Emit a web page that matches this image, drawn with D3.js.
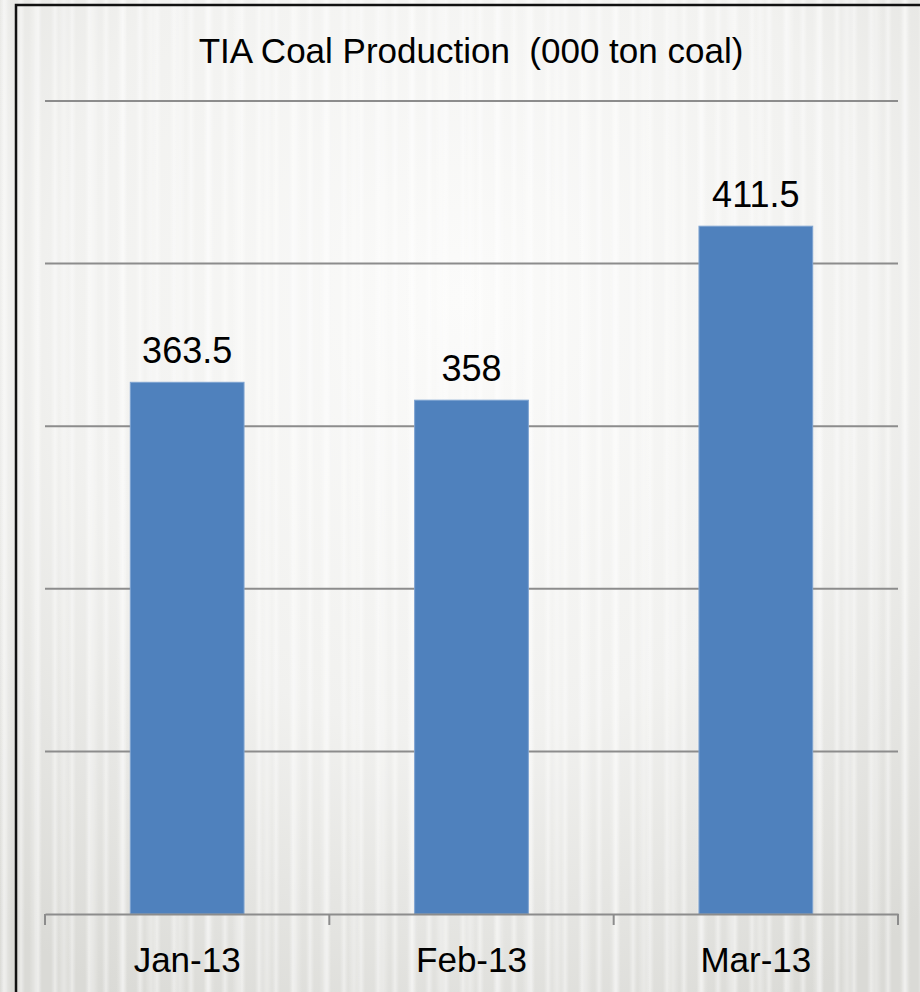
<!DOCTYPE html>
<html>
<head>
<meta charset="utf-8">
<script src="https://cdn.jsdelivr.net/npm/d3@7"></script>
<style>
  html, body { margin: 0; padding: 0; background: #ececea; }
  #chart svg { display: block; }
</style>
</head>
<body>
<div id="chart"></div>
<script>
const months = ["Jan-13", "Feb-13", "Mar-13"];
const production = [363.5, 358, 411.5];
const gridValues = [250, 300, 350, 400, 450];
const titleText = "TIA Coal Production  (000 ton coal)";

const width = 920, height = 992;
const margin = { top: 101, right: 22, bottom: 78, left: 45 };

const svg = d3.select("#chart")
  .append("svg")
  .attr("width", width)
  .attr("height", height);

const defs = svg.append("defs");

// soft grey backdrop, lighter near the upper middle
const bg = defs.append("radialGradient")
  .attr("id", "bgGrad")
  .attr("cx", "0.5").attr("cy", "0.3").attr("r", "0.8");
bg.append("stop").attr("offset", "0%").attr("stop-color", "#fbfbfa");
bg.append("stop").attr("offset", "55%").attr("stop-color", "#f1f1ef");
bg.append("stop").attr("offset", "100%").attr("stop-color", "#dadad6");

// faint vertical stripes, two periods so they don't look too regular
const stripe = defs.append("linearGradient")
  .attr("id", "stripeGrad")
  .attr("x1", "0").attr("x2", "1").attr("y1", "0").attr("y2", "0");
stripe.append("stop").attr("offset", "0%").attr("stop-color", "#ffffff").attr("stop-opacity", 0);
stripe.append("stop").attr("offset", "50%").attr("stop-color", "#ffffff").attr("stop-opacity", 0.45);
stripe.append("stop").attr("offset", "100%").attr("stop-color", "#ffffff").attr("stop-opacity", 0);

[[17, 8], [29, 12]].forEach(([period, w], i) => {
  const p = defs.append("pattern")
    .attr("id", "stripes" + i)
    .attr("patternUnits", "userSpaceOnUse")
    .attr("width", period).attr("height", height);
  p.append("rect")
    .attr("width", w).attr("height", height)
    .attr("fill", "url(#stripeGrad)");
});

svg.append("rect").attr("width", width).attr("height", height).attr("fill", "url(#bgGrad)");
svg.append("rect").attr("width", width).attr("height", height).attr("fill", "url(#stripes0)");
svg.append("rect").attr("width", width).attr("height", height).attr("fill", "url(#stripes1)").attr("opacity", 0.7);

// frame (runs off the right and bottom edges)
svg.append("rect")
  .attr("x", 16).attr("y", 5)
  .attr("width", width + 20).attr("height", height + 20)
  .attr("fill", "none")
  .attr("stroke", "#111")
  .attr("stroke-width", 2.5);

const x = d3.scaleBand()
  .domain(months)
  .range([margin.left, width - margin.right])
  .padding(0);

const y = d3.scaleLinear()
  .domain([200, 450])
  .range([height - margin.bottom, margin.top]);

// gridlines
svg.append("g")
  .selectAll("line")
  .data(gridValues)
  .join("line")
  .attr("x1", margin.left)
  .attr("x2", width - margin.right)
  .attr("y1", d => y(d))
  .attr("y2", d => y(d))
  .attr("stroke", "#8c8c8c")
  .attr("stroke-width", 2);

// bars
const barW = x.bandwidth() * 0.4;
svg.append("g")
  .selectAll("rect")
  .data(production)
  .join("rect")
  .attr("x", (d, i) => x(months[i]) + (x.bandwidth() - barW) / 2)
  .attr("y", d => y(d))
  .attr("width", barW)
  .attr("height", d => y(200) - y(d))
  .attr("fill", "#4f81bd")
  .attr("stroke", "#7ea3d1")
  .attr("stroke-width", 1);

// value labels
svg.append("g")
  .selectAll("text")
  .data(production)
  .join("text")
  .attr("x", (d, i) => x(months[i]) + x.bandwidth() / 2)
  .attr("y", d => y(d) - 19)
  .attr("text-anchor", "middle")
  .attr("font-family", "'Liberation Sans', Arial, sans-serif")
  .attr("font-size", "36px")
  .attr("fill", "#000")
  .text(d => d);

// category axis
const xAxis = svg.append("g")
  .attr("transform", `translate(0, ${y(200)})`)
  .call(d3.axisBottom(x).tickSize(0).tickPadding(33));
xAxis.select(".domain").attr("stroke", "#8c8c8c").attr("stroke-width", 2);
xAxis.selectAll("text")
  .attr("font-family", "'Liberation Sans', Arial, sans-serif")
  .attr("font-size", "35px")
  .attr("fill", "#000")
  .attr("dy", "0.71em");

// tick marks at category boundaries
const boundaries = months.map(m => x(m)).concat([x(months[months.length - 1]) + x.bandwidth()]);
xAxis.append("g")
  .selectAll("line")
  .data(boundaries)
  .join("line")
  .attr("x1", d => d).attr("x2", d => d)
  .attr("y1", 0).attr("y2", 11)
  .attr("stroke", "#8c8c8c")
  .attr("stroke-width", 2);

// title
svg.append("text")
  .attr("x", 471)
  .attr("y", 63)
  .attr("text-anchor", "middle")
  .attr("font-family", "'Liberation Sans', Arial, sans-serif")
  .attr("font-size", "35px")
  .attr("fill", "#000")
  .style("white-space", "pre")
  .text(titleText);
</script>
</body>
</html>
